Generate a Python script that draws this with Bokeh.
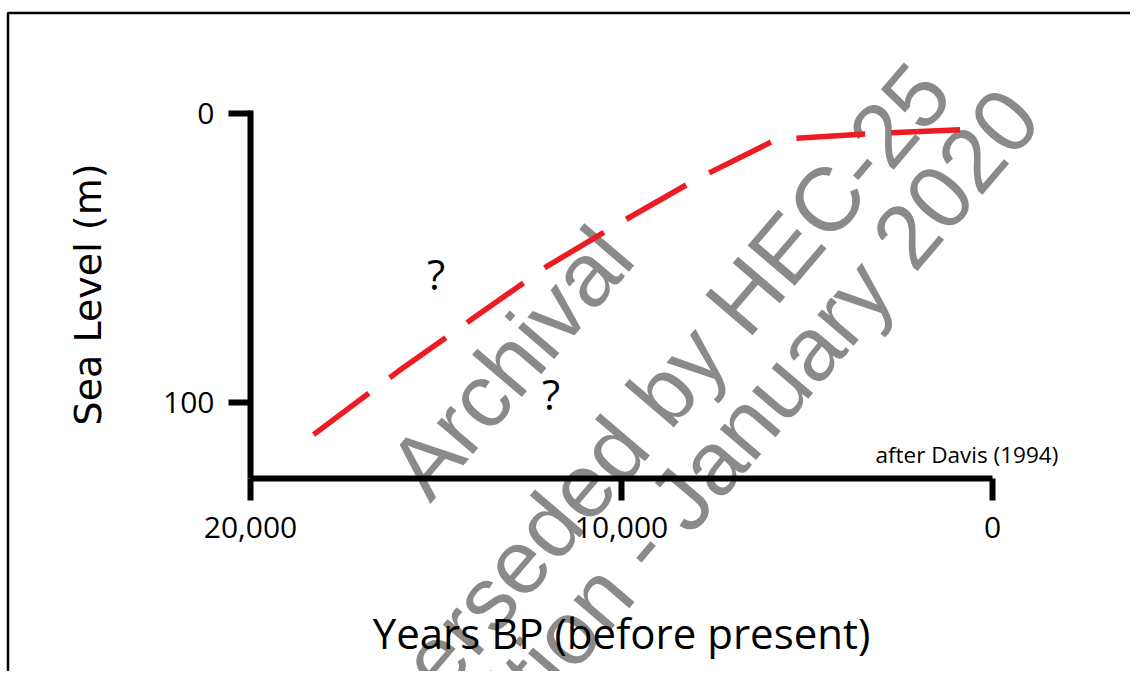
import math
from bokeh.plotting import figure
from bokeh.models import Range1d, FixedTicker, NumeralTickFormatter, ColumnDataSource, Label
from bokeh.core.properties import value
from bokeh.embed import file_html
from bokeh.resources import INLINE

# ---- data ----
years_bp = [18300, 16000, 14000, 12000, 10000, 8000, 6000, 5800, 3000, 700]
sea_level_m = [111.3, 89.2, 71.0, 52.9, 37.6, 22.9, 10.1, 9.0, 6.8, 5.5]
x_ticks = [20000, 10000, 0]
y_ticks = [0, 100]
question_x = [15000, 11900]
question_y = [55.5, 97.0]
question_text = ["?", "?"]
watermark_lines = ["Archival", "Superseded by HEC-25", "Edition - January 2020"]

# ---- layout geometry (reference pixels) ----
W, H = 1130, 671
OFF = 0
X_MAX = 20000
Y_BOTTOM = 126.5
AX_X0, AX_X1 = 250.0, 992.0     # pixel of x=20000 and x=0
AX_Y0, AX_Y100 = 113.0, 401.5   # pixel of y=0 and y=100
XS = X_MAX / (AX_X1 - AX_X0)
YS = 100.0 / (AX_Y100 - AX_Y0)


def px_x(px):
    return X_MAX - (px - AX_X0) * XS


def px_y(py):
    return (py - AX_Y0) * YS


p = figure(width=W, height=H,
           x_range=Range1d(px_x(OFF), px_x(OFF + W)),
           y_range=Range1d(px_y(OFF + H), px_y(OFF)),
           output_backend="svg", toolbar_location=None,
           min_border=0, min_border_left=0, min_border_right=0,
           min_border_top=0, min_border_bottom=0)
p.outline_line_color = None
p.grid.visible = False
p.background_fill_color = "white"
p.border_fill_color = "white"

# watermark (underneath)
theta = math.radians(49.5)
centers = [(510.0, 362.0), (623.0, 438.0), (728.0, 444.0)]
wm_src = ColumnDataSource(dict(x=[px_x(c[0]) for c in centers],
                               y=[px_y(c[1]) for c in centers],
                               text=watermark_lines))
p.text(x="x", y="y", text="text", source=wm_src, angle=theta,
       text_font=value("Liberation Sans"), text_font_size="90px",
       text_color="#8a8a8a", text_align="center", text_baseline="middle")

# outer frame
p.quad(left=[px_x(7.5)], right=[px_x(1300)], top=[px_y(12.5)], bottom=[px_y(900)],
       fill_color=None, line_color="black", line_width=2.5)

# curve
p.line(years_bp, sea_level_m, line_color="#ed1c24", line_width=5.5,
       line_dash="69 26", line_cap="butt")

q_src = ColumnDataSource(dict(x=question_x, y=question_y, text=question_text))
p.text(x="x", y="y", text="text", source=q_src, text_font=value("Open Sans"),
       text_font_size="42px", text_color="black", text_align="center",
       text_baseline="middle")

p.add_layout(Label(x=px_x(875), y=px_y(454), text="after Davis (1994)",
                   text_font="Open Sans", text_font_size="22.5px",
                   text_color="black", text_align="left", text_baseline="middle"))

# axes
xa = p.xaxis[0]
ya = p.yaxis[0]
xa.fixed_location = Y_BOTTOM
ya.fixed_location = X_MAX
xa.bounds = (0, X_MAX)
ya.bounds = (-1, Y_BOTTOM)
xa.ticker = FixedTicker(ticks=x_ticks)
ya.ticker = FixedTicker(ticks=y_ticks)
xa.formatter = NumeralTickFormatter(format="0,0")
for ax in (xa, ya):
    ax.axis_line_width = 6
    ax.axis_line_color = "black"
    ax.major_tick_line_width = 6
    ax.major_tick_line_color = "black"
    ax.major_tick_out = 22
    ax.major_tick_in = 0
    ax.minor_tick_in = 0
    ax.minor_tick_out = 0
    ax.major_label_text_font = "Open Sans"
    ax.major_label_text_font_size = "30px"
    ax.major_label_text_color = "black"
    ax.axis_label_text_font_style = "normal"
    ax.axis_label_text_color = "black"
xa.major_label_standoff = 17
ya.major_label_standoff = 14
xa.axis_label = "Years BP (before present)"
xa.axis_label_text_font = "Open Sans"
xa.axis_label_text_font_size = "42px"
xa.axis_label_standoff = 62
ya.axis_label = "Sea Level (m)"
ya.axis_label_text_font = "DejaVu Sans"
ya.axis_label_text_font_size = "38px"
ya.axis_label_standoff = 50

open("out.html", "w").write(file_html(p, INLINE))
